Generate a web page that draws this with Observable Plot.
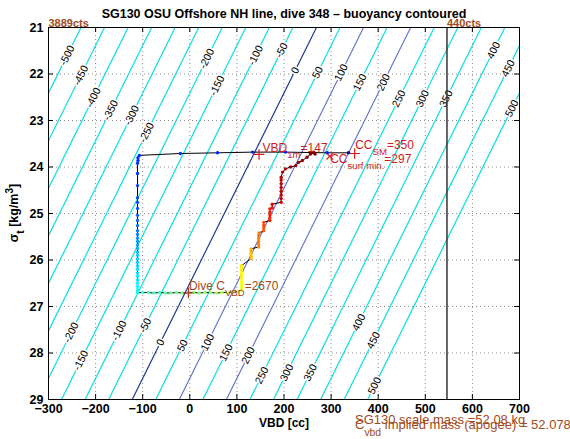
<!DOCTYPE html>
<html>
<head>
<meta charset="utf-8">
<script src="https://cdn.jsdelivr.net/npm/d3@7"></script>
<script src="https://cdn.jsdelivr.net/npm/@observablehq/plot@0.6"></script>
<style>
html,body{margin:0;padding:0;background:#fff;}
#chart svg{display:block;}
</style>
</head>
<body>
<div id="chart"></div>
<script>
// ---------------- axes ----------------
const xTicks = [-300, -200, -100, 0, 100, 200, 300, 400, 500, 600, 700];
const yTicks = [21, 22, 23, 24, 25, 26, 27, 28, 29];
const titleText = "SG130 OSU Offshore NH line, dive 348 \u2013 buoyancy contoured";
const xLabel = "VBD [cc]";

// ---------------- buoyancy contours ----------------
const contourLevels = [-500, -450, -400, -350, -300, -250, -200, -150, -100, -50, 0, 50, 100, 150, 200, 250, 300, 350, 400, 450, 500];
const darkBlueLevels = [0];
const blueLevels = [100, 200];
const contourSlope = -48.9;     // VBD change per unit sigma along a contour
const contourRefSigma = 26.5;   // sigma where the 0 contour crosses VBD = 0

// contour labels: level and the sigma where the label sits
const labelLevels = [-500, -450, -400, -350, -300, -250, -200, -150, -100, -50, 0, 50, 100, 150, 200, 250, 300, 350, 400, 450, 500,
                     -200, -150, -100, -50, 0, 50, 100, 150, 200, 250, 300, 350, 400, 450, 500];
const labelSigmas = [21.60, 22.03, 22.51, 22.78, 22.89, 23.26, 21.67, 22.25, 21.60, 21.49, 21.92, 21.97, 21.97, 22.18, 22.18, 22.53, 22.53, 22.53, 21.49, 21.88, 22.74,
                     27.56, 28.16, 27.52, 27.41, 27.77, 27.84, 27.77, 27.99, 28.05, 28.48, 28.42, 28.42, 27.34, 27.73, 28.70];

// ---------------- dive trace (VBD, sigma_t, colour value) ----------------
// surface bleed
const bleedVBD   = [337, 292, 203, 133, 59, -20, -107];
const bleedSigma = [23.695, 23.695, 23.68, 23.68, 23.695, 23.71, 23.75];
const bleedT     = [0.03, 0.14, 0.15, 0.16, 0.16, 0.17, 0.17];
// descent at constant VBD
const descentVBD   = [-110, -110, -111, -111, -111, -111, -111, -111, -111, -111, -111, -111, -111, -111, -111,
                      -111, -111, -111, -111, -111, -111, -111, -111, -111, -111, -111, -111, -111, -111, -111];
const descentSigma = [23.80, 23.86, 23.92, 24.14, 24.40, 24.66, 24.76, 24.89, 25.04, 25.15, 25.26, 25.37, 25.45, 25.53, 25.60,
                      25.68, 25.75, 25.83, 25.90, 25.98, 26.05, 26.13, 26.20, 26.28, 26.35, 26.43, 26.50, 26.57, 26.64, 26.70];
const descentT     = [0.17, 0.17, 0.18, 0.18, 0.19, 0.20, 0.20, 0.21, 0.22, 0.23, 0.24, 0.25, 0.26, 0.27, 0.28,
                      0.29, 0.30, 0.31, 0.32, 0.33, 0.33, 0.34, 0.35, 0.35, 0.36, 0.36, 0.37, 0.37, 0.38, 0.38];
// pumping at apogee
const apogeeVBD   = [-100, -88, -76, -64, -52, -40, -28, -16, -4, 8, 20, 32, 44, 56, 68, 80, 92, 104];
const apogeeSigma = [26.70, 26.70, 26.71, 26.70, 26.71, 26.71, 26.70, 26.71, 26.71, 26.70, 26.71, 26.70, 26.70, 26.71, 26.70, 26.70, 26.69, 26.68];
const apogeeT     = [0.42, 0.43, 0.44, 0.45, 0.46, 0.47, 0.48, 0.49, 0.50, 0.50, 0.51, 0.52, 0.53, 0.54, 0.55, 0.56, 0.57, 0.58];
// climb with stepwise pumping
const climbVBD   = [110, 110, 110, 110, 110, 110, 110, 110, 110, 110,
                    130, 130, 130, 130, 130,
                    146, 146, 146, 146, 146, 147,
                    157, 157, 157, 157,
                    170, 170, 170, 170, 170,
                    175, 175,
                    194, 194, 194, 194, 194, 194, 194, 194,
                    197, 203, 214, 225, 231, 239, 249, 256, 263, 258, 266];
const climbSigma = [26.64, 26.58, 26.52, 26.46, 26.40, 26.34, 26.28, 26.22, 26.16, 26.12,
                    25.97, 25.92, 25.87, 25.82, 25.76,
                    25.72, 25.66, 25.60, 25.54, 25.48, 25.42,
                    25.37, 25.31, 25.25, 25.19,
                    25.15, 25.09, 25.03, 24.97, 24.90,
                    24.88, 24.80,
                    24.76, 24.68, 24.60, 24.52, 24.44, 24.36, 24.28, 24.22,
                    24.11, 24.04, 24.00, 23.97, 23.90, 23.86, 23.79, 23.72, 23.68, 23.70, 23.72];
const climbT     = [0.60, 0.61, 0.61, 0.62, 0.62, 0.63, 0.63, 0.64, 0.64, 0.64,
                    0.69, 0.69, 0.69, 0.70, 0.70,
                    0.74, 0.74, 0.75, 0.75, 0.75, 0.76,
                    0.79, 0.79, 0.80, 0.80,
                    0.84, 0.84, 0.85, 0.85, 0.85,
                    0.87, 0.88,
                    0.92, 0.92, 0.93, 0.93, 0.93, 0.94, 0.94, 0.94,
                    0.95, 0.95, 0.96, 0.96, 0.96, 0.97, 0.97, 0.98, 0.98, 0.99, 1.00];

// ---------------- annotations ----------------
const ctsVBD = [-300, 546];
const ctsText = ["3889cts", "440cts"];
const vbd1m = 147, vbd1mSigma = 23.73;
const ccSM = 350, ccSMSigma = 23.71;
const ccSurfMin = 297, ccSurfMinSigma = 23.77;
const diveCvbd = 2670, diveCvbdVBD = -3, diveCvbdSigma = 26.71;
const scaleMass = "52.08";
const impliedMass = "52.0786";

// jet colour map
const jetDomain = [0, 0.125, 0.375, 0.625, 0.875, 1];
const jetRange = ["#00008f", "#0000ff", "#00ffff", "#ffff00", "#ff0000", "#800000"];

const FONT = "'Liberation Sans', Arial, Helvetica, sans-serif";
const RED = "#d41a1a";
const BROWN = "#a24a1a";
const CYAN = "#18e0e0";

// ---------------- derived tables ----------------
const W = 570, H = 439, ML = 48, MR = 51, MT = 27, MB = 40;
const contourRows = contourLevels.flatMap(L => [21, 29].map(s => ({level: L, sigma: s, vbd: L + contourSlope * (s - contourRefSigma)})));
const labelRows = labelLevels.map((L, i) => ({level: L, sigma: labelSigmas[i], vbd: L + contourSlope * (labelSigmas[i] - contourRefSigma)}));
const pxPerVBD = (W - ML - MR) / 1000, pxPerSigma = (H - MT - MB) / 8;
const labelAngle = -Math.atan2(pxPerSigma, -contourSlope * pxPerVBD) * 180 / Math.PI;

const trace = [];
const pushPhase = (v, s, t) => v.forEach((d, i) => trace.push({vbd: d, sigma: s[i], t: t[i]}));
pushPhase(bleedVBD, bleedSigma, bleedT);
pushPhase(descentVBD, descentSigma, descentT);
pushPhase(apogeeVBD, apogeeSigma, apogeeT);
pushPhase(climbVBD, climbSigma, climbT);

const isCyan = L => !darkBlueLevels.includes(L) && !blueLevels.includes(L);
const fw = W - ML - MR, fh = H - MT - MB;

const plot = Plot.plot({
  width: W, height: H,
  marginLeft: ML, marginRight: MR, marginTop: MT, marginBottom: MB,
  style: {fontFamily: FONT, background: "white", overflow: "visible"},
  x: {domain: [-300, 700], label: null},
  y: {domain: [21, 29], reverse: true, label: null},
  color: {type: "linear", domain: jetDomain, range: jetRange, interpolate: "rgb"},
  marks: [
    Plot.gridX(xTicks.slice(1, -1), {stroke: "#8a8a8a", strokeOpacity: 1, strokeDasharray: "1,3"}),
    Plot.gridY(yTicks.slice(1, -1), {stroke: "#8a8a8a", strokeOpacity: 1, strokeDasharray: "1,3"}),
    Plot.line(contourRows.filter(d => isCyan(d.level)), {x: "vbd", y: "sigma", z: "level", stroke: CYAN, strokeWidth: 1.3, clip: true}),
    Plot.line(contourRows.filter(d => blueLevels.includes(d.level)), {x: "vbd", y: "sigma", z: "level", stroke: "#5b6fd0", strokeWidth: 1.1, clip: true}),
    Plot.line(contourRows.filter(d => darkBlueLevels.includes(d.level)), {x: "vbd", y: "sigma", z: "level", stroke: "#1d3a95", strokeWidth: 1.2, clip: true}),
    Plot.text(labelRows, {x: "vbd", y: "sigma", text: d => `${d.level}`, rotate: labelAngle, fill: "black", stroke: "white", strokeWidth: 3, fontSize: 10.5}),
    Plot.ruleX([ctsVBD[1]], {stroke: "#333", strokeWidth: 1.5}),
    Plot.text(ctsVBD, {x: d => d, y: 21, text: (d, i) => ctsText[i], dy: -4, textAnchor: "start", fill: BROWN, fontSize: 11, fontWeight: "bold"}),
    Plot.line(trace, {x: "vbd", y: "sigma", stroke: "black", strokeWidth: 1}),
    Plot.dot(trace, {x: "vbd", y: "sigma", fill: "t", r: 1.7}),
    Plot.dot([vbd1m], {x: d => d, y: vbd1mSigma, symbol: "plus", stroke: RED, r: 3.5, strokeWidth: 1.2}),
    Plot.dot([ccSM], {x: d => d, y: ccSMSigma, symbol: "plus", stroke: RED, r: 3.5, strokeWidth: 1.2}),
    Plot.dot([ccSurfMin], {x: d => d, y: ccSurfMinSigma, symbol: "times", stroke: RED, r: 3, strokeWidth: 1.2}),
    Plot.dot([diveCvbdVBD], {x: d => d, y: diveCvbdSigma, symbol: "plus", stroke: "#c0301a", r: 3.5, strokeWidth: 1.2}),
    // inward ticks on all four sides
    Plot.ruleX(xTicks, {insetTop: fh - 5, stroke: "black"}),
    Plot.ruleX(xTicks, {insetBottom: fh - 5, stroke: "black"}),
    Plot.ruleY(yTicks, {insetRight: fw - 5, stroke: "black"}),
    Plot.ruleY(yTicks, {insetLeft: fw - 5, stroke: "black"}),
    Plot.axisX(xTicks, {tickSize: 0, tickPadding: 5, fontSize: 12.5, fontWeight: "bold", label: null}),
    Plot.axisY(yTicks, {tickSize: 0, tickPadding: 5, fontSize: 12.5, fontWeight: "bold", label: null}),
    Plot.text([xLabel], {frameAnchor: "bottom", lineAnchor: "middle", dy: 24, text: d => d, fontSize: 12, fontWeight: "bold"}),
    Plot.text([titleText], {frameAnchor: "top", lineAnchor: "middle", dy: -14, text: d => d, fontSize: 12.5, fontWeight: "bold"}),
    Plot.frame({stroke: "black", strokeWidth: 1})
  ]
});
document.getElementById("chart").append(plot);

// ---------------- rich text (subscripts) ----------------
const sx = plot.scale("x"), sy = plot.scale("y");
const svg = d3.select(plot);
function rich(x, y, parts, {fill = "black", size = 11, weight = "normal", anchor = "start", rotate = 0} = {}) {
  const t = svg.append("text").attr("x", x).attr("y", y).attr("fill", fill)
    .attr("font-size", size).attr("font-weight", weight).attr("text-anchor", anchor)
    .attr("font-family", FONT);
  if (rotate) t.attr("transform", `rotate(${rotate},${x},${y})`);
  let shift = 0;
  for (const p of parts) {
    const target = p.sub ? size * 0.5 : p.sup ? -size * 0.4 : 0;
    t.append("tspan").attr("dy", target - shift).attr("font-size", (p.sub || p.sup) ? size * 0.8 : size).text(p.t);
    shift = target;
  }
}
rich(18, (MT + H - MB) / 2, [{t: "\u03c3"}, {t: "t", sub: true}, {t: " [kg/m"}, {t: "3", sup: true}, {t: "]"}],
     {size: 12.5, weight: "bold", anchor: "middle", rotate: -90});
rich(sx.apply(vbd1m) + 4, sy.apply(vbd1mSigma) - 2, [{t: "VBD"}, {t: "1m", sub: true}, {t: "=" + vbd1m}], {fill: RED, size: 12});
rich(sx.apply(ccSM) + 1, sy.apply(ccSMSigma) - 4, [{t: "CC"}, {t: "SM", sub: true}, {t: "=" + ccSM}], {fill: RED, size: 12});
rich(sx.apply(ccSurfMin) + 1, sy.apply(ccSurfMinSigma) + 7, [{t: "CC"}, {t: "surf min.", sub: true}, {t: "=" + ccSurfMin}], {fill: RED, size: 12});
rich(sx.apply(diveCvbdVBD) + 1, sy.apply(diveCvbdSigma) - 3, [{t: "Dive C"}, {t: "VBD", sub: true}, {t: "=" + diveCvbd}], {fill: BROWN, size: 12});
rich(355, 424, [{t: "SG130 scale mass =" + scaleMass + " kg"}], {fill: BROWN, size: 13});
rich(355, 429, [{t: "C"}, {t: "vbd", sub: true}, {t: " implied mass (apogee) = " + impliedMass + " kg"}], {fill: BROWN, size: 13});
</script>
</body>
</html>
